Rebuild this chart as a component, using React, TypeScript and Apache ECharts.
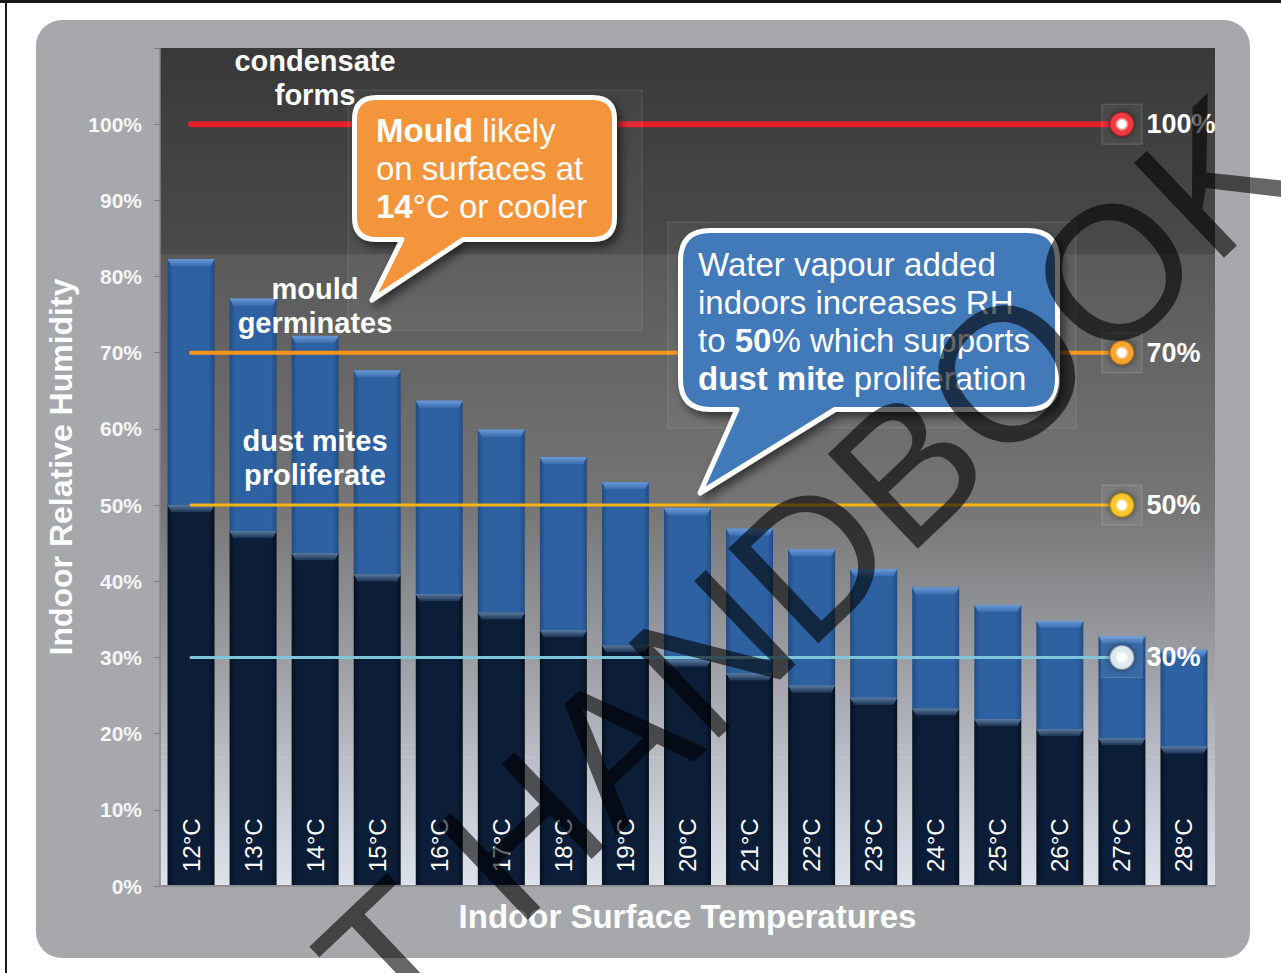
import React, { useEffect, useRef } from 'react';
import * as echarts from 'echarts';

const categories = ['12°C', '13°C', '14°C', '15°C', '16°C', '17°C', '18°C', '19°C', '20°C', '21°C', '22°C', '23°C', '24°C', '25°C', '26°C', '27°C', '28°C'];
// RH reached at the surface (top of each bar)
const totalRH = [82.3, 77.1, 72.2, 67.7, 63.7, 59.9, 56.3, 53.0, 49.6, 46.9, 44.2, 41.6, 39.2, 36.9, 34.8, 32.8, 31.0];
// lower (dark) part of each bar
const baseRH = [50.0, 46.6, 43.7, 40.9, 38.3, 35.9, 33.6, 31.6, 29.7, 27.9, 26.3, 24.7, 23.3, 21.9, 20.6, 19.4, 18.3];

const thresholdValues = [100, 70, 50, 30];
const thresholdLabels = ['100%', '70%', '50%', '30%'];
const thresholdEndCategory = '27°C';

const yMax = 110;
const yInterval = 10;

const thresholdColors = ['#e5202a', '#f7941e', '#f6b514', '#7ec5da'];
const thresholdWidths = [6, 4, 3, 3];
const markerGlow = ['#ef2f37', '#f7a024', '#f8c31e', '#dce7ee'];
const markerEdge = ['#7c0b10', '#8d4b08', '#8d6c08', '#6a7c8a'];

const FONT = 'Liberation Sans, Arial, sans-serif';

function calloutPath(x0: number, y0: number, x1: number, y1: number, r: number, tailL: number, tailR: number, tipX: number, tipY: number) {
  return `M${x0 + r},${y0} L${x1 - r},${y0} Q${x1},${y0} ${x1},${y0 + r} L${x1},${y1 - r} Q${x1},${y1} ${x1 - r},${y1} L${tailR},${y1} L${tipX},${tipY} L${tailL},${y1} L${x0 + r},${y1} Q${x0},${y1} ${x0},${y1 - r} L${x0},${y0 + r} Q${x0},${y0} ${x0 + r},${y0} Z`;
}

echarts.graphic.registerShape('calloutOrange', echarts.graphic.extendPath(calloutPath(354.5, 97.5, 614.5, 239.5, 22, 402, 463, 372, 300), {}));
echarts.graphic.registerShape('calloutBlue', echarts.graphic.extendPath(calloutPath(680.5, 230.5, 1057.5, 409.5, 30, 737, 835, 700, 493), {}));

const hGrad = (edge: string, mid: string) => ({
  type: 'linear', x: 0, y: 0, x2: 1, y2: 0,
  colorStops: [
    { offset: 0, color: edge }, { offset: 0.12, color: mid }, { offset: 0.88, color: mid }, { offset: 1, color: edge },
  ],
});

export default function App() {
  const ref = useRef<HTMLDivElement>(null);
  useEffect(() => {
    if (!ref.current) return;
    const chart = echarts.init(ref.current, undefined, { renderer: 'svg' });

    const lightPart = totalRH.map((t, i) => +(t - baseRH[i]).toFixed(1));

    const lineSeries = thresholdValues.map((v, k) => ({
      type: 'line',
      z: 4,
      symbol: 'none',
      data: [
        [categories[0], v],
        {
          value: [thresholdEndCategory, v],
          symbol: 'circle',
          symbolSize: 25,
          itemStyle: {
            color: {
              type: 'radial', x: 0.5, y: 0.5, r: 0.5,
              colorStops: [
                { offset: 0, color: '#ffffff' }, { offset: 0.3, color: '#ffffff' },
                { offset: 0.55, color: markerGlow[k] }, { offset: 0.85, color: markerGlow[k] }, { offset: 1, color: markerEdge[k] },
              ],
            },
            shadowBlur: 6, shadowColor: 'rgba(0,0,0,0.6)',
          },
          label: {
            show: true, position: 'right', distance: 12, formatter: thresholdLabels[k],
            color: '#ffffff', fontSize: 27, fontWeight: 'bold', fontFamily: FONT,
          },
        },
      ],
      lineStyle: { color: thresholdColors[k], width: thresholdWidths[k], cap: 'round' },
      markPoint: {
        silent: true,
        symbol: 'rect',
        symbolSize: 40,
        data: [{ coord: [thresholdEndCategory, v] }],
        itemStyle: { color: 'rgba(255,255,255,0.06)', borderColor: 'rgba(255,255,255,0.18)', borderWidth: 1 },
        label: { show: false },
      },
    }));

    const textStyleW = (size: number, bold: boolean) => ({ fill: '#ffffff', fontSize: size, fontWeight: bold ? 'bold' : 'normal', fontFamily: FONT });

    chart.setOption({
      animation: false,
      backgroundColor: '#ffffff',
      grid: { left: 160, right: 66, top: 48, bottom: 87, containLabel: false },
      xAxis: {
        type: 'category',
        data: categories,
        axisLabel: { show: false },
        axisTick: { show: false },
        axisLine: { show: true, lineStyle: { color: '#8e8f93', width: 2 } },
        name: 'Indoor Surface Temperatures',
        nameLocation: 'middle',
        nameGap: 14,
        nameTextStyle: { color: '#ffffff', fontSize: 33, fontWeight: 'bold', fontFamily: FONT },
        z: 5,
      },
      yAxis: {
        type: 'value',
        min: 0,
        max: yMax,
        interval: yInterval,
        splitLine: { show: false },
        axisLine: { show: true, lineStyle: { color: '#85868a', width: 1.5 } },
        axisTick: { show: true, length: 6, lineStyle: { color: '#7c7d81' } },
        axisLabel: {
          color: '#f6f6f6', fontSize: 21, fontWeight: 'bold', fontFamily: FONT, margin: 18,
          formatter: (val: number) => (val > 100 ? '' : `${val}%`),
        },
        name: 'Indoor Relative Humidity',
        nameLocation: 'middle',
        nameGap: 80,
        nameTextStyle: { color: '#ffffff', fontSize: 32, fontWeight: 'bold', fontFamily: FONT },
      },
      series: [
        {
          name: 'base', type: 'bar', stack: 'rh', barWidth: 47, z: 2,
          data: baseRH,
          itemStyle: { color: hGrad('#05111f', '#0b1d37') },
          label: {
            show: true, position: 'insideBottom', rotate: 90, align: 'left', verticalAlign: 'middle', distance: 14,
            formatter: '{b}', color: '#ffffff', fontSize: 24, fontFamily: FONT,
          },
        },
        {
          name: 'rise', type: 'bar', stack: 'rh', barWidth: 47, z: 2,
          data: lightPart,
          itemStyle: { color: hGrad('#214c82', '#2d61a1') },
        },
        {
          name: 'topBevel', type: 'pictorialBar', z: 3, silent: true,
          data: totalRH,
          symbol: 'path://M0,0 L47,0 L43,7 L4,7 Z',
          symbolSize: [47, 7],
          symbolPosition: 'end',
          itemStyle: {
            color: { type: 'linear', x: 0, y: 0, x2: 0, y2: 1, colorStops: [{ offset: 0, color: '#6a9ad6' }, { offset: 1, color: '#3a6db0' }] },
          },
        },
        {
          name: 'baseBevel', type: 'pictorialBar', z: 3, silent: true,
          data: baseRH,
          symbol: 'path://M0,0 L47,0 L43,7 L4,7 Z',
          symbolSize: [47, 7],
          symbolPosition: 'end',
          itemStyle: {
            color: { type: 'linear', x: 0, y: 0, x2: 0, y2: 1, colorStops: [{ offset: 0, color: '#5a7aa0' }, { offset: 1, color: '#1c3352' }] },
          },
        },
        ...lineSeries,
      ],
      graphic: [
        // page frame
        { type: 'rect', z: -20, silent: true, shape: { x: 0, y: 0, width: 1281, height: 3 }, style: { fill: '#1a1a1a' } },
        { type: 'rect', z: -20, silent: true, shape: { x: 5, y: 0, width: 2, height: 973 }, style: { fill: '#1a1a1a' } },
        // outer panel
        { type: 'rect', z: -20, silent: true, shape: { x: 36, y: 20, width: 1214, height: 938, r: 26 }, style: { fill: '#a7a8ab' } },
        // plot background
        {
          type: 'rect', z: -19, silent: true, shape: { x: 160, y: 48, width: 1055, height: 838 },
          style: {
            fill: {
              type: 'linear', x: 0, y: 0, x2: 0, y2: 1,
              colorStops: [
                { offset: 0, color: '#393939' }, { offset: 0.245, color: '#4a4a4a' },
                { offset: 0.247, color: '#595959' }, { offset: 0.55, color: '#767676' },
                { offset: 0.75, color: '#a1a3a9' }, { offset: 0.95, color: '#d3d7e1' }, { offset: 1, color: '#dde1ea' },
              ],
            },
          },
        },
        { type: 'line', z: 1, silent: true, shape: { x1: 160, y1: 745, x2: 1215, y2: 745 }, style: { stroke: 'rgba(255,255,255,0.15)', lineWidth: 1 } },
        { type: 'line', z: 1, silent: true, shape: { x1: 160, y1: 757, x2: 1215, y2: 757 }, style: { stroke: 'rgba(255,255,255,0.15)', lineWidth: 1 } },
        // annotation texts
        { type: 'text', z: 30, silent: true, x: 315, y: 44, style: { ...textStyleW(29, true), text: 'condensate\nforms', lineHeight: 34, align: 'center', textAlign: 'center', verticalAlign: 'top', textVerticalAlign: 'top' } },
        { type: 'text', z: 30, silent: true, x: 315, y: 272, style: { ...textStyleW(29, true), text: 'mould\ngerminates', lineHeight: 34, align: 'center', textAlign: 'center', verticalAlign: 'top', textVerticalAlign: 'top' } },
        { type: 'text', z: 30, silent: true, x: 315, y: 424, style: { ...textStyleW(29, true), text: 'dust mites\nproliferate', lineHeight: 34, align: 'center', textAlign: 'center', verticalAlign: 'top', textVerticalAlign: 'top' } },
        // callout shadow boxes
        { type: 'rect', z: 35, silent: true, shape: { x: 348, y: 90, width: 294, height: 240 }, style: { fill: 'rgba(255,255,255,0.04)', stroke: 'rgba(255,255,255,0.12)', lineWidth: 1 } },
        { type: 'rect', z: 35, silent: true, shape: { x: 668, y: 222, width: 408, height: 206 }, style: { fill: 'rgba(255,255,255,0.04)', stroke: 'rgba(255,255,255,0.12)', lineWidth: 1 } },
        // callouts
        {
          type: 'calloutOrange', z: 40, silent: true, x: 0, y: 0,
          style: { fill: '#f4943a', stroke: '#ffffff', lineWidth: 5, lineJoin: 'round', shadowBlur: 10, shadowOffsetX: 4, shadowOffsetY: 5, shadowColor: 'rgba(0,0,0,0.55)' },
        },
        {
          type: 'text', z: 41, silent: true, x: 376, y: 111,
          style: {
            text: '{b|Mould}{n| likely}\n{n|on surfaces at}\n{b|14}{n|°C or cooler}',
            align: 'left', textAlign: 'left', verticalAlign: 'top', textVerticalAlign: 'top',
            fill: '#ffffff', fontSize: 33, fontFamily: FONT, lineHeight: 38,
            rich: {
              b: { fill: '#ffffff', fontSize: 33, fontFamily: FONT, fontWeight: 'bold', lineHeight: 38 },
              n: { fill: '#ffffff', fontSize: 33, fontFamily: FONT, fontWeight: 'normal', lineHeight: 38 },
            },
          },
        },
        {
          type: 'calloutBlue', z: 40, silent: true, x: 0, y: 0,
          style: { fill: '#4379b8', stroke: '#ffffff', lineWidth: 5, lineJoin: 'round', shadowBlur: 10, shadowOffsetX: 4, shadowOffsetY: 5, shadowColor: 'rgba(0,0,0,0.55)' },
        },
        {
          type: 'text', z: 41, silent: true, x: 698, y: 245,
          style: {
            text: '{n|Water vapour added}\n{n|indoors increases RH}\n{n|to }{b|50}{n|% which supports}\n{b|dust mite}{n| proliferation}',
            align: 'left', textAlign: 'left', verticalAlign: 'top', textVerticalAlign: 'top',
            fill: '#ffffff', fontSize: 33, fontFamily: FONT, lineHeight: 38,
            rich: {
              b: { fill: '#ffffff', fontSize: 33, fontFamily: FONT, fontWeight: 'bold', lineHeight: 38 },
              n: { fill: '#ffffff', fontSize: 33, fontFamily: FONT, fontWeight: 'normal', lineHeight: 38 },
            },
          },
        },
        // watermark
        {
          type: 'text', z: 60, silent: true, x: 805, y: 565, rotation: 0.76,
          style: {
            text: 'T HANDBOOK', fontSize: 190, fontFamily: FONT, fill: 'rgba(0,0,0,0.6)',
            align: 'center', textAlign: 'center', verticalAlign: 'middle', textVerticalAlign: 'middle',
          },
        },
      ],
    });
    return () => chart.dispose();
  }, []);
  return <div ref={ref} style={{ position: 'fixed', left: 0, top: 0, width: 1281, height: 973 }} />;
}
